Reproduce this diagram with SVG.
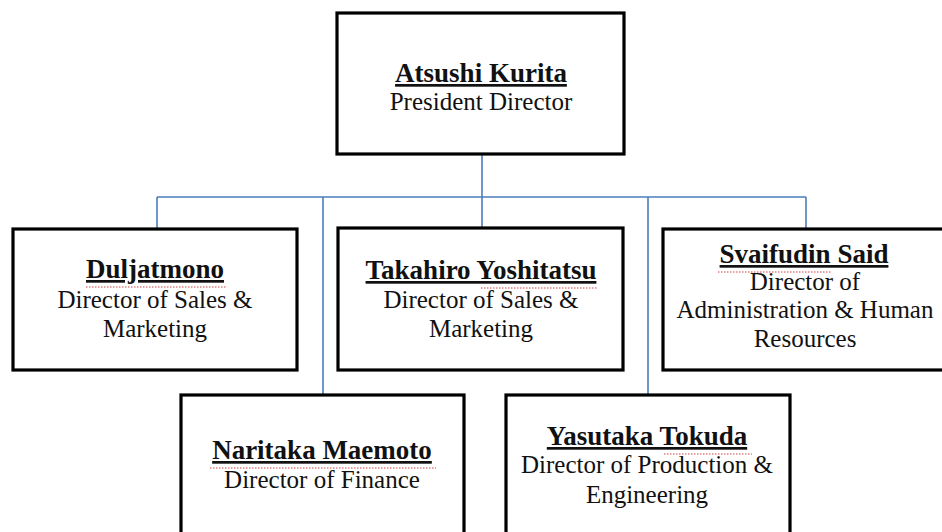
<svg xmlns="http://www.w3.org/2000/svg" width="942" height="532" viewBox="0 0 942 532">
<style>
.box{fill:#fff;stroke:#000;stroke-width:3.2}
.con{fill:none;stroke:#4a7ebb;stroke-width:1.6}
.name{font-family:"Liberation Serif","Times New Roman",serif;font-weight:bold;font-size:27px;fill:#111;text-anchor:middle;text-decoration:underline}
.role{font-family:"Liberation Serif","Times New Roman",serif;font-size:25px;fill:#111;text-anchor:middle}
.spell{fill:none;stroke:#d04040;stroke-width:1.2;stroke-dasharray:1.5 1.5}
</style>
<rect width="942" height="532" fill="#fff"/>
<g id="connectors">
<path class="con" d="M482 154 V197 M157 197 H806 M157 197 V229 M482 197 V228 M806 197 V229 M323 197 V395 M648 197 V395"/>
</g>
<g id="n-kurita">
<rect class="box" x="337" y="13" width="287" height="141"/>
<text class="name" x="481" y="82">Atsushi Kurita</text>
<text class="role" x="481" y="110">President Director</text>
</g>
<g id="n-duljatmono">
<rect class="box" x="13" y="229" width="284" height="141"/>
<text class="name" x="155" y="278">Duljatmono</text>
<path class="spell" d="M86 287 H226"/>
<text class="role" x="155" y="308">Director of Sales &amp;</text>
<text class="role" x="155" y="337">Marketing</text>
</g>
<g id="n-takahiro">
<rect class="box" x="338" y="228" width="285" height="142"/>
<text class="name" x="481" y="279">Takahiro Yoshitatsu</text>
<path class="spell" d="M481 288 H598"/>
<text class="role" x="481" y="308">Director of Sales &amp;</text>
<text class="role" x="481" y="337">Marketing</text>
</g>
<g id="n-svaifudin">
<rect class="box" x="663" y="229" width="290" height="141"/>
<text class="name" x="804" y="263">Svaifudin Said</text>
<path class="spell" d="M718 272 H832"/>
<text class="role" x="805" y="290">Director of</text>
<text class="role" x="805" y="318">Administration &amp; Human</text>
<text class="role" x="805" y="347">Resources</text>
</g>
<g id="n-naritaka">
<rect class="box" x="181" y="395" width="283" height="160"/>
<text class="name" x="322" y="459">Naritaka Maemoto</text>
<path class="spell" d="M210 468 H436"/>
<text class="role" x="322" y="488">Director of Finance</text>
</g>
<g id="n-yasutaka">
<rect class="box" x="506" y="395" width="284" height="160"/>
<text class="name" x="647" y="445">Yasutaka Tokuda</text>
<path class="spell" d="M664 454 H752"/>
<text class="role" x="647" y="473">Director of Production &amp;</text>
<text class="role" x="647" y="503">Engineering</text>
</g>
</svg>
